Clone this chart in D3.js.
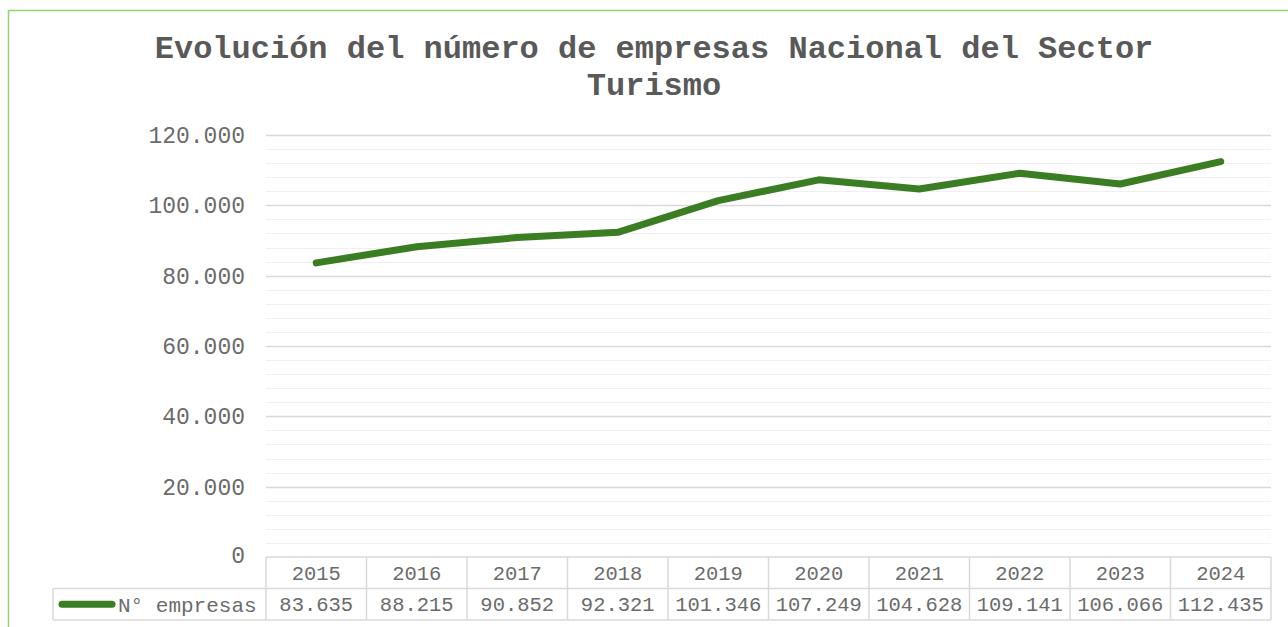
<!DOCTYPE html>
<html>
<head>
<meta charset="utf-8">
<script src="https://cdn.jsdelivr.net/npm/d3@7"></script>
<style>
  body { margin: 0; background: #fff; }
  svg { display: block; }
</style>
</head>
<body>
<div id="chart"></div>
<script>
var width = 1288, height = 627;

var years = ["2015", "2016", "2017", "2018", "2019", "2020", "2021", "2022", "2023", "2024"];
var empresas = [83635, 88215, 90852, 92321, 101346, 107249, 104628, 109141, 106066, 112435];
var seriesName = "N° empresas";
var yTicks = [0, 20000, 40000, 60000, 80000, 100000, 120000];

var plot = {left: 266, right: 1271, top: 135, bottom: 557};
var rowH = 31.5;
var legendLeft = 53;
var green = "#3b7d23";
var font = "'Liberation Mono', 'Courier New', monospace";
var textCol = "#6b6b6b";

// Excel style: 120.000
var fmt = function(v) {
    return v === 0 ? "0" : d3.format(",")(v).replace(/,/g, ".");
};

var svg = d3.select("#chart").append("svg")
    .attr("width", width)
    .attr("height", height);

// chart area border (only top/left visible in the crop)
svg.append("rect")
    .attr("x", 8.5).attr("y", 10.5)
    .attr("width", 1400).attr("height", 800)
    .attr("fill", "none")
    .attr("stroke", "#8fd66f")
    .attr("stroke-width", 1.5);

var title = svg.append("text")
    .attr("text-anchor", "middle")
    .attr("font-family", font)
    .attr("font-weight", "bold")
    .attr("font-size", 32)
    .attr("fill", "#595959");
title.append("tspan").attr("x", 654).attr("y", 58)
    .text("Evolución del número de empresas Nacional del Sector");
title.append("tspan").attr("x", 654).attr("y", 95)
    .text("Turismo");

var x = d3.scaleBand()
    .domain(years)
    .range([plot.left, plot.right]);

var y = d3.scaleLinear()
    .domain([0, 120000])
    .range([plot.bottom, plot.top]);

// minor gridlines
var minor = d3.range(0, 120001, 4000).filter(v => v % 20000 !== 0);
svg.append("g")
    .selectAll("line")
    .data(minor)
    .join("line")
        .attr("x1", plot.left).attr("x2", plot.right)
        .attr("y1", d => Math.round(y(d)) + 0.5)
        .attr("y2", d => Math.round(y(d)) + 0.5)
        .attr("stroke", "#f0f0f0")
        .attr("stroke-width", 1.2);

// major gridlines
svg.append("g")
    .selectAll("line")
    .data(yTicks.filter(d => d > 0))
    .join("line")
        .attr("x1", plot.left).attr("x2", plot.right)
        .attr("y1", d => Math.round(y(d)) + 0.5)
        .attr("y2", d => Math.round(y(d)) + 0.5)
        .attr("stroke", "#d9d9d9")
        .attr("stroke-width", 1.3);

// y axis labels
svg.append("g")
    .attr("font-family", font)
    .attr("font-size", 23)
    .attr("fill", textCol)
    .attr("text-anchor", "end")
    .selectAll("text")
    .data(yTicks)
    .join("text")
        .attr("x", 245)
        .attr("y", d => y(d))
        .attr("dy", d => d === 0 ? "0.25em" : "0.35em")
        .text(fmt);

// data table
var table = svg.append("g")
    .attr("font-family", font)
    .attr("font-size", 20.5)
    .attr("fill", textCol)
    .attr("text-anchor", "middle");

var tb = plot.bottom, tm = tb + rowH, tbot = tb + 2 * rowH;
var gridCol = "#d9d9d9";

table.append("g").selectAll("line")
    .data(years.map(d => x(d)).concat([plot.right]))
    .join("line")
        .attr("x1", d => d).attr("x2", d => d)
        .attr("y1", tb).attr("y2", tbot)
        .attr("stroke", gridCol).attr("stroke-width", 1.5);

table.append("line")
    .attr("x1", plot.left).attr("x2", plot.right)
    .attr("y1", tb).attr("y2", tb)
    .attr("stroke", gridCol).attr("stroke-width", 1.5);
table.append("line")
    .attr("x1", legendLeft).attr("x2", plot.right)
    .attr("y1", tm).attr("y2", tm)
    .attr("stroke", gridCol).attr("stroke-width", 1.5);
table.append("line")
    .attr("x1", legendLeft).attr("x2", plot.right)
    .attr("y1", tbot).attr("y2", tbot)
    .attr("stroke", gridCol).attr("stroke-width", 1.5);
table.append("line")
    .attr("x1", legendLeft).attr("x2", legendLeft)
    .attr("y1", tm).attr("y2", tbot)
    .attr("stroke", gridCol).attr("stroke-width", 1.5);

table.append("g").selectAll("text")
    .data(years)
    .join("text")
        .attr("x", d => x(d) + x.bandwidth() / 2)
        .attr("y", tb + rowH / 2)
        .attr("dy", "0.35em")
        .text(d => d);

table.append("g").selectAll("text")
    .data(empresas)
    .join("text")
        .attr("x", (d, i) => x(years[i]) + x.bandwidth() / 2)
        .attr("y", tm + rowH / 2)
        .attr("dy", "0.35em")
        .text(fmt);

// legend key
table.append("line")
    .attr("x1", 62).attr("x2", 112)
    .attr("y1", tm + rowH / 2).attr("y2", tm + rowH / 2)
    .attr("stroke", green)
    .attr("stroke-width", 7)
    .attr("stroke-linecap", "round");
table.append("text")
    .attr("x", 118)
    .attr("y", tm + rowH / 2)
    .attr("dy", "0.35em")
    .attr("text-anchor", "start")
    .attr("font-size", 21)
    .text(seriesName);

// series line
var line = d3.line()
    .x((d, i) => x(years[i]) + x.bandwidth() / 2)
    .y(d => y(d));

svg.append("path")
    .datum(empresas)
    .attr("d", line)
    .attr("fill", "none")
    .attr("stroke", green)
    .attr("stroke-width", 7)
    .attr("stroke-linecap", "round")
    .attr("stroke-linejoin", "round");
</script>
</body>
</html>
